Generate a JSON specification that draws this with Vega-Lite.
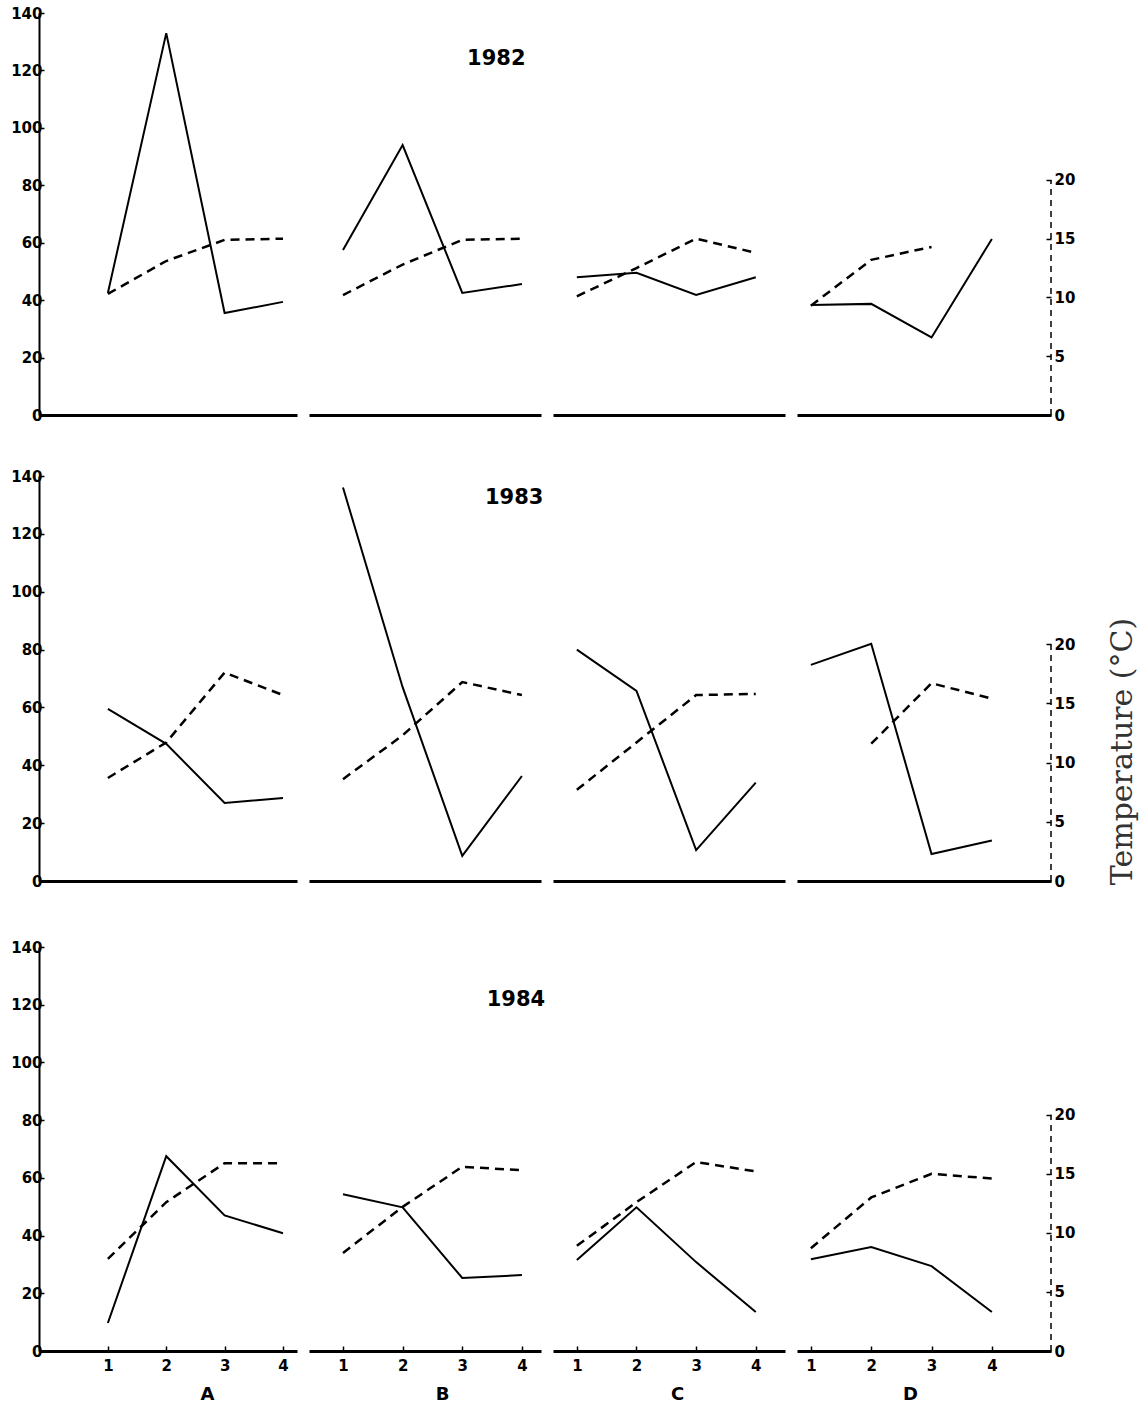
{
  "$schema": "https://vega.github.io/schema/vega-lite/v6.json",
  "padding": {"left": 10, "top": 6, "right": 5, "bottom": 5},
  "background": "white",
  "data": {"values": [
    {"year": "1982", "site": "A", "period": 1, "count": 42.5, "temp": 10.3},
    {"year": "1982", "site": "A", "period": 2, "count": 133, "temp": 13.1},
    {"year": "1982", "site": "A", "period": 3, "count": 35.5, "temp": 14.9},
    {"year": "1982", "site": "A", "period": 4, "count": 39.4, "temp": 15.0},
    {"year": "1982", "site": "B", "period": 1, "count": 57.5, "temp": 10.2},
    {"year": "1982", "site": "B", "period": 2, "count": 94, "temp": 12.8},
    {"year": "1982", "site": "B", "period": 3, "count": 42.5, "temp": 14.9},
    {"year": "1982", "site": "B", "period": 4, "count": 45.6, "temp": 15.0},
    {"year": "1982", "site": "C", "period": 1, "count": 48, "temp": 10.1},
    {"year": "1982", "site": "C", "period": 2, "count": 49.5, "temp": 12.5},
    {"year": "1982", "site": "C", "period": 3, "count": 41.8, "temp": 15.0},
    {"year": "1982", "site": "C", "period": 4, "count": 48, "temp": 13.8},
    {"year": "1982", "site": "D", "period": 1, "count": 38.3, "temp": 9.3},
    {"year": "1982", "site": "D", "period": 2, "count": 38.7, "temp": 13.2},
    {"year": "1982", "site": "D", "period": 3, "count": 27, "temp": 14.3},
    {"year": "1982", "site": "D", "period": 4, "count": 61.3, "temp": null},
    {"year": "1983", "site": "A", "period": 1, "count": 59.5, "temp": 8.7},
    {"year": "1983", "site": "A", "period": 2, "count": 47.4, "temp": 11.7},
    {"year": "1983", "site": "A", "period": 3, "count": 27, "temp": 17.6},
    {"year": "1983", "site": "A", "period": 4, "count": 28.7, "temp": 15.7},
    {"year": "1983", "site": "B", "period": 1, "count": 136, "temp": 8.6},
    {"year": "1983", "site": "B", "period": 2, "count": 67, "temp": 12.3},
    {"year": "1983", "site": "B", "period": 3, "count": 8.7, "temp": 16.8},
    {"year": "1983", "site": "B", "period": 4, "count": 36.3, "temp": 15.7},
    {"year": "1983", "site": "C", "period": 1, "count": 80, "temp": 7.7},
    {"year": "1983", "site": "C", "period": 2, "count": 65.7, "temp": 11.7},
    {"year": "1983", "site": "C", "period": 3, "count": 10.7, "temp": 15.7},
    {"year": "1983", "site": "C", "period": 4, "count": 34, "temp": 15.8},
    {"year": "1983", "site": "D", "period": 1, "count": 74.7, "temp": null},
    {"year": "1983", "site": "D", "period": 2, "count": 82, "temp": 11.6},
    {"year": "1983", "site": "D", "period": 3, "count": 9.3, "temp": 16.7},
    {"year": "1983", "site": "D", "period": 4, "count": 14, "temp": 15.4},
    {"year": "1984", "site": "A", "period": 1, "count": 9.7, "temp": 7.8},
    {"year": "1984", "site": "A", "period": 2, "count": 67.5, "temp": 12.6},
    {"year": "1984", "site": "A", "period": 3, "count": 47, "temp": 15.9},
    {"year": "1984", "site": "A", "period": 4, "count": 40.8, "temp": 15.9},
    {"year": "1984", "site": "B", "period": 1, "count": 54.3, "temp": 8.3},
    {"year": "1984", "site": "B", "period": 2, "count": 49.8, "temp": 12.2},
    {"year": "1984", "site": "B", "period": 3, "count": 25.3, "temp": 15.6},
    {"year": "1984", "site": "B", "period": 4, "count": 26.3, "temp": 15.3},
    {"year": "1984", "site": "C", "period": 1, "count": 31.5, "temp": 8.9},
    {"year": "1984", "site": "C", "period": 2, "count": 49.8, "temp": 12.6},
    {"year": "1984", "site": "C", "period": 3, "count": 30.8, "temp": 16.0},
    {"year": "1984", "site": "C", "period": 4, "count": 13.5, "temp": 15.2},
    {"year": "1984", "site": "D", "period": 1, "count": 31.8, "temp": 8.7},
    {"year": "1984", "site": "D", "period": 2, "count": 36, "temp": 13.0},
    {"year": "1984", "site": "D", "period": 3, "count": 29.4, "temp": 15.0},
    {"year": "1984", "site": "D", "period": 4, "count": 13.5, "temp": 14.6}
  ]},
  "spacing": 46,
  "vconcat": [
    {"bounds": "flush", "hconcat": [
      {"width": 258, "height": 402,
       "transform": [{"filter": "datum.year == '1982' && datum.site == 'A'"}],
       "encoding": {"x": {"field": "period", "type": "quantitative", "scale": {"domain": [-0.18, 4.24], "nice": false, "zero": false}, "axis": {"labels": false, "ticks": false, "title": null, "domainWidth": 3}}},
       "layer": [
        {"mark": {"type": "line", "color": "black", "strokeWidth": 2},
         "encoding": {"y": {"field": "count", "type": "quantitative", "scale": {"domain": [0, 140], "nice": false}, "axis": {"orient": "left", "values": [0, 20, 40, 60, 80, 100, 120, 140], "format": "d", "title": null, "domainWidth": 2, "tickSize": -5, "labelPadding": 2}}}},
        {"transform": [{"filter": "isValid(datum.temp)"}],
         "mark": {"type": "line", "color": "black", "strokeWidth": 2.5, "strokeDash": [9, 6]},
         "encoding": {"y": {"field": "temp", "type": "quantitative", "scale": {"domain": [0, 34.2], "nice": false}, "axis": null}}}
       ],
       "resolve": {"scale": {"y": "independent"}}},
      {"width": 232, "height": 402,
       "transform": [{"filter": "datum.year == '1982' && datum.site == 'B'"}],
       "encoding": {"x": {"field": "period", "type": "quantitative", "scale": {"domain": [0.43, 4.32], "nice": false, "zero": false}, "axis": {"labels": false, "ticks": false, "title": null, "domainWidth": 3}}},
       "layer": [
        {"mark": {"type": "line", "color": "black", "strokeWidth": 2},
         "encoding": {"y": {"field": "count", "type": "quantitative", "scale": {"domain": [0, 140], "nice": false}, "axis": null}}},
        {"transform": [{"filter": "isValid(datum.temp)"}],
         "mark": {"type": "line", "color": "black", "strokeWidth": 2.5, "strokeDash": [9, 6]},
         "encoding": {"y": {"field": "temp", "type": "quantitative", "scale": {"domain": [0, 34.2], "nice": false}, "axis": null}}},
        {"transform": [{"filter": "datum.period == 1"}],
         "mark": {"type": "text", "font": "DejaVu Sans", "fontWeight": "bold", "fontSize": 21, "color": "black", "align": "center", "baseline": "middle"},
         "encoding": {"x": {"datum": 3.57}, "y": {"datum": 124, "type": "quantitative", "scale": {"domain": [0, 140], "nice": false}, "axis": null}, "text": {"field": "year"}}}
       ],
       "resolve": {"scale": {"y": "independent"}}},
      {"width": 232, "height": 402,
       "transform": [{"filter": "datum.year == '1982' && datum.site == 'C'"}],
       "encoding": {"x": {"field": "period", "type": "quantitative", "scale": {"domain": [0.6, 4.49], "nice": false, "zero": false}, "axis": {"labels": false, "ticks": false, "title": null, "domainWidth": 3}}},
       "layer": [
        {"mark": {"type": "line", "color": "black", "strokeWidth": 2},
         "encoding": {"y": {"field": "count", "type": "quantitative", "scale": {"domain": [0, 140], "nice": false}, "axis": null}}},
        {"transform": [{"filter": "isValid(datum.temp)"}],
         "mark": {"type": "line", "color": "black", "strokeWidth": 2.5, "strokeDash": [9, 6]},
         "encoding": {"y": {"field": "temp", "type": "quantitative", "scale": {"domain": [0, 34.2], "nice": false}, "axis": null}}}
       ],
       "resolve": {"scale": {"y": "independent"}}},
      {"width": 254, "height": 402,
       "transform": [{"filter": "datum.year == '1982' && datum.site == 'D'"}],
       "encoding": {"x": {"field": "period", "type": "quantitative", "scale": {"domain": [0.77, 4.98], "nice": false, "zero": false}, "axis": {"labels": false, "ticks": false, "title": null, "domainWidth": 3}}},
       "layer": [
        {"mark": {"type": "line", "color": "black", "strokeWidth": 2},
         "encoding": {"y": {"field": "count", "type": "quantitative", "scale": {"domain": [0, 140], "nice": false}, "axis": null}}},
        {"transform": [{"filter": "isValid(datum.temp)"}],
         "mark": {"type": "line", "color": "black", "strokeWidth": 2.5, "strokeDash": [9, 6]},
         "encoding": {"y": {"field": "temp", "type": "quantitative", "scale": {"domain": [0, 34.2], "nice": false}, "axis": {"orient": "right", "values": [0, 5, 10, 15, 20], "format": "d", "title": null, "domain": false, "tickSize": -5, "labelPadding": 8}}}},
        {"transform": [{"filter": "datum.period == 1"}],
         "mark": {"type": "rule", "color": "black", "strokeWidth": 1.5, "strokeDash": [6, 5]},
         "encoding": {"x": {"datum": 4.98}, "y": {"datum": 0, "type": "quantitative", "scale": {"domain": [0, 34.2], "nice": false}, "axis": null}, "y2": {"datum": 20}}}
       ],
       "resolve": {"scale": {"y": "independent"}}}
    ]},
    {"spacing": 51,
     "vconcat": [
    {"bounds": "flush", "hconcat": [
      {"width": 258, "height": 405,
       "transform": [{"filter": "datum.year == '1983' && datum.site == 'A'"}],
       "encoding": {"x": {"field": "period", "type": "quantitative", "scale": {"domain": [-0.18, 4.24], "nice": false, "zero": false}, "axis": {"labels": false, "ticks": false, "title": null, "domainWidth": 3}}},
       "layer": [
        {"mark": {"type": "line", "color": "black", "strokeWidth": 2},
         "encoding": {"y": {"field": "count", "type": "quantitative", "scale": {"domain": [0, 140], "nice": false}, "axis": {"orient": "left", "values": [0, 20, 40, 60, 80, 100, 120, 140], "format": "d", "title": null, "domainWidth": 2, "tickSize": -5, "labelPadding": 2}}}},
        {"transform": [{"filter": "isValid(datum.temp)"}],
         "mark": {"type": "line", "color": "black", "strokeWidth": 2.5, "strokeDash": [9, 6]},
         "encoding": {"y": {"field": "temp", "type": "quantitative", "scale": {"domain": [0, 34.2], "nice": false}, "axis": null}}}
       ],
       "resolve": {"scale": {"y": "independent"}}},
      {"width": 232, "height": 405,
       "transform": [{"filter": "datum.year == '1983' && datum.site == 'B'"}],
       "encoding": {"x": {"field": "period", "type": "quantitative", "scale": {"domain": [0.43, 4.32], "nice": false, "zero": false}, "axis": {"labels": false, "ticks": false, "title": null, "domainWidth": 3}}},
       "layer": [
        {"mark": {"type": "line", "color": "black", "strokeWidth": 2},
         "encoding": {"y": {"field": "count", "type": "quantitative", "scale": {"domain": [0, 140], "nice": false}, "axis": null}}},
        {"transform": [{"filter": "isValid(datum.temp)"}],
         "mark": {"type": "line", "color": "black", "strokeWidth": 2.5, "strokeDash": [9, 6]},
         "encoding": {"y": {"field": "temp", "type": "quantitative", "scale": {"domain": [0, 34.2], "nice": false}, "axis": null}}},
        {"transform": [{"filter": "datum.period == 1"}],
         "mark": {"type": "text", "font": "DejaVu Sans", "fontWeight": "bold", "fontSize": 21, "color": "black", "align": "center", "baseline": "middle"},
         "encoding": {"x": {"datum": 3.87}, "y": {"datum": 132.5, "type": "quantitative", "scale": {"domain": [0, 140], "nice": false}, "axis": null}, "text": {"field": "year"}}}
       ],
       "resolve": {"scale": {"y": "independent"}}},
      {"width": 232, "height": 405,
       "transform": [{"filter": "datum.year == '1983' && datum.site == 'C'"}],
       "encoding": {"x": {"field": "period", "type": "quantitative", "scale": {"domain": [0.6, 4.49], "nice": false, "zero": false}, "axis": {"labels": false, "ticks": false, "title": null, "domainWidth": 3}}},
       "layer": [
        {"mark": {"type": "line", "color": "black", "strokeWidth": 2},
         "encoding": {"y": {"field": "count", "type": "quantitative", "scale": {"domain": [0, 140], "nice": false}, "axis": null}}},
        {"transform": [{"filter": "isValid(datum.temp)"}],
         "mark": {"type": "line", "color": "black", "strokeWidth": 2.5, "strokeDash": [9, 6]},
         "encoding": {"y": {"field": "temp", "type": "quantitative", "scale": {"domain": [0, 34.2], "nice": false}, "axis": null}}}
       ],
       "resolve": {"scale": {"y": "independent"}}},
      {"width": 254, "height": 405,
       "transform": [{"filter": "datum.year == '1983' && datum.site == 'D'"}],
       "encoding": {"x": {"field": "period", "type": "quantitative", "scale": {"domain": [0.77, 4.98], "nice": false, "zero": false}, "axis": {"labels": false, "ticks": false, "title": null, "domainWidth": 3}}},
       "layer": [
        {"mark": {"type": "line", "color": "black", "strokeWidth": 2},
         "encoding": {"y": {"field": "count", "type": "quantitative", "scale": {"domain": [0, 140], "nice": false}, "axis": null}}},
        {"transform": [{"filter": "isValid(datum.temp)"}],
         "mark": {"type": "line", "color": "black", "strokeWidth": 2.5, "strokeDash": [9, 6]},
         "encoding": {"y": {"field": "temp", "type": "quantitative", "scale": {"domain": [0, 34.2], "nice": false}, "axis": {"orient": "right", "values": [0, 5, 10, 15, 20], "format": "d", "title": "Temperature (°C)", "titleFont": "DejaVu Serif", "titleFontSize": 30, "titleFontWeight": "normal", "titleColor": "#333333", "titleAngle": 270, "titleY": 275, "titlePadding": 63, "domain": false, "tickSize": -5, "labelPadding": 8}}}},
        {"transform": [{"filter": "datum.period == 1"}],
         "mark": {"type": "rule", "color": "black", "strokeWidth": 1.5, "strokeDash": [6, 5]},
         "encoding": {"x": {"datum": 4.98}, "y": {"datum": 0, "type": "quantitative", "scale": {"domain": [0, 34.2], "nice": false}, "axis": null}, "y2": {"datum": 20}}}
       ],
       "resolve": {"scale": {"y": "independent"}}}
    ]},
    {"bounds": "flush", "hconcat": [
      {"width": 258, "height": 404,
       "transform": [{"filter": "datum.year == '1984' && datum.site == 'A'"}],
       "encoding": {"x": {"field": "period", "type": "quantitative", "scale": {"domain": [-0.18, 4.24], "nice": false, "zero": false}, "axis": {"values": [1, 2, 3, 4], "format": "d", "title": "A", "titleX": 168, "titleFont": "DejaVu Sans", "titleFontWeight": "bold", "titleFontSize": 18, "titlePadding": 12, "tickSize": -5, "labelPadding": 12, "domainWidth": 3}}},
       "layer": [
        {"mark": {"type": "line", "color": "black", "strokeWidth": 2},
         "encoding": {"y": {"field": "count", "type": "quantitative", "scale": {"domain": [0, 140], "nice": false}, "axis": {"orient": "left", "values": [0, 20, 40, 60, 80, 100, 120, 140], "format": "d", "title": null, "domainWidth": 2, "tickSize": -5, "labelPadding": 2}}}},
        {"transform": [{"filter": "isValid(datum.temp)"}],
         "mark": {"type": "line", "color": "black", "strokeWidth": 2.5, "strokeDash": [9, 6]},
         "encoding": {"y": {"field": "temp", "type": "quantitative", "scale": {"domain": [0, 34.2], "nice": false}, "axis": null}}}
       ],
       "resolve": {"scale": {"y": "independent"}}},
      {"width": 232, "height": 404,
       "transform": [{"filter": "datum.year == '1984' && datum.site == 'B'"}],
       "encoding": {"x": {"field": "period", "type": "quantitative", "scale": {"domain": [0.43, 4.32], "nice": false, "zero": false}, "axis": {"values": [1, 2, 3, 4], "format": "d", "title": "B", "titleX": 133, "titleFont": "DejaVu Sans", "titleFontWeight": "bold", "titleFontSize": 18, "titlePadding": 12, "tickSize": -5, "labelPadding": 12, "domainWidth": 3}}},
       "layer": [
        {"mark": {"type": "line", "color": "black", "strokeWidth": 2},
         "encoding": {"y": {"field": "count", "type": "quantitative", "scale": {"domain": [0, 140], "nice": false}, "axis": null}}},
        {"transform": [{"filter": "isValid(datum.temp)"}],
         "mark": {"type": "line", "color": "black", "strokeWidth": 2.5, "strokeDash": [9, 6]},
         "encoding": {"y": {"field": "temp", "type": "quantitative", "scale": {"domain": [0, 34.2], "nice": false}, "axis": null}}},
        {"transform": [{"filter": "datum.period == 1"}],
         "mark": {"type": "text", "font": "DejaVu Sans", "fontWeight": "bold", "fontSize": 21, "color": "black", "align": "center", "baseline": "middle"},
         "encoding": {"x": {"datum": 3.9}, "y": {"datum": 121.5, "type": "quantitative", "scale": {"domain": [0, 140], "nice": false}, "axis": null}, "text": {"field": "year"}}}
       ],
       "resolve": {"scale": {"y": "independent"}}},
      {"width": 232, "height": 404,
       "transform": [{"filter": "datum.year == '1984' && datum.site == 'C'"}],
       "encoding": {"x": {"field": "period", "type": "quantitative", "scale": {"domain": [0.6, 4.49], "nice": false, "zero": false}, "axis": {"values": [1, 2, 3, 4], "format": "d", "title": "C", "titleX": 124, "titleFont": "DejaVu Sans", "titleFontWeight": "bold", "titleFontSize": 18, "titlePadding": 12, "tickSize": -5, "labelPadding": 12, "domainWidth": 3}}},
       "layer": [
        {"mark": {"type": "line", "color": "black", "strokeWidth": 2},
         "encoding": {"y": {"field": "count", "type": "quantitative", "scale": {"domain": [0, 140], "nice": false}, "axis": null}}},
        {"transform": [{"filter": "isValid(datum.temp)"}],
         "mark": {"type": "line", "color": "black", "strokeWidth": 2.5, "strokeDash": [9, 6]},
         "encoding": {"y": {"field": "temp", "type": "quantitative", "scale": {"domain": [0, 34.2], "nice": false}, "axis": null}}}
       ],
       "resolve": {"scale": {"y": "independent"}}},
      {"width": 254, "height": 404,
       "transform": [{"filter": "datum.year == '1984' && datum.site == 'D'"}],
       "encoding": {"x": {"field": "period", "type": "quantitative", "scale": {"domain": [0.77, 4.98], "nice": false, "zero": false}, "axis": {"values": [1, 2, 3, 4], "format": "d", "title": "D", "titleX": 113, "titleFont": "DejaVu Sans", "titleFontWeight": "bold", "titleFontSize": 18, "titlePadding": 12, "tickSize": -5, "labelPadding": 12, "domainWidth": 3}}},
       "layer": [
        {"mark": {"type": "line", "color": "black", "strokeWidth": 2},
         "encoding": {"y": {"field": "count", "type": "quantitative", "scale": {"domain": [0, 140], "nice": false}, "axis": null}}},
        {"transform": [{"filter": "isValid(datum.temp)"}],
         "mark": {"type": "line", "color": "black", "strokeWidth": 2.5, "strokeDash": [9, 6]},
         "encoding": {"y": {"field": "temp", "type": "quantitative", "scale": {"domain": [0, 34.2], "nice": false}, "axis": {"orient": "right", "values": [0, 5, 10, 15, 20], "format": "d", "title": null, "domain": false, "tickSize": -5, "labelPadding": 8}}}},
        {"transform": [{"filter": "datum.period == 1"}],
         "mark": {"type": "rule", "color": "black", "strokeWidth": 1.5, "strokeDash": [6, 5]},
         "encoding": {"x": {"datum": 4.98}, "y": {"datum": 0, "type": "quantitative", "scale": {"domain": [0, 34.2], "nice": false}, "axis": null}, "y2": {"datum": 20}}}
       ],
       "resolve": {"scale": {"y": "independent"}}}
    ]}
     ]}
  ],
  "config": {
    "view": {"stroke": null},
    "concat": {"spacing": 12},
    "axis": {"grid": false, "domainColor": "black", "tickColor": "black", "tickWidth": 1.5, "labelColor": "black", "labelFont": "DejaVu Sans", "labelFontWeight": "bold", "labelFontSize": 15, "titleColor": "black"}
  }
}
